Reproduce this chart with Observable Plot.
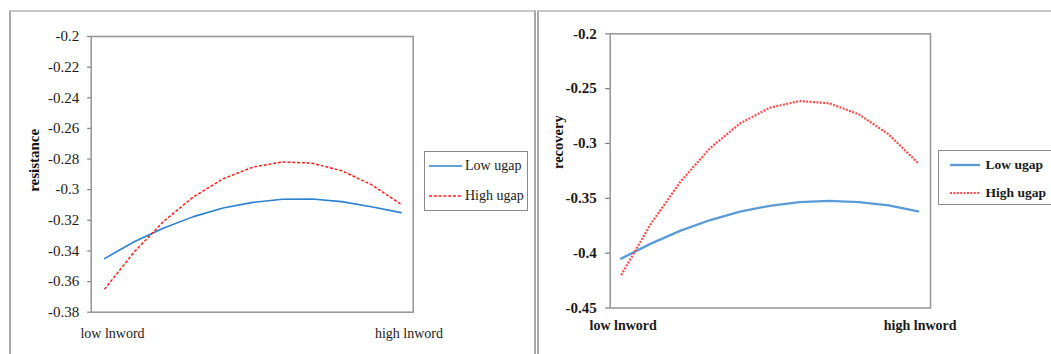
<!DOCTYPE html>
<html><head><meta charset="utf-8">
<script src="https://cdn.jsdelivr.net/npm/d3@7"></script>
<script src="https://cdn.jsdelivr.net/npm/@observablehq/plot@0.6"></script>
<style>
body{margin:0;background:#fff;}
#wrap{position:relative;width:1051px;height:354px;overflow:hidden;font-family:"Liberation Serif","Times New Roman",serif;color:#1a1a1a;}
.frame{position:absolute;box-sizing:border-box;}
.panel{position:absolute;top:0;}
.legend{position:absolute;box-sizing:border-box;border:1.5px solid #8a8a8a;background:#fff;}
.row{position:absolute;height:18px;display:flex;align-items:center;white-space:nowrap;}
.row svg{display:block;}
</style></head><body><div id="wrap"></div>
<script>
// ---- data ----
const xPositions = [0, 0.1, 0.2, 0.3, 0.4, 0.5, 0.6, 0.7, 0.8, 0.9, 1];
const xTicks = [0, 1];
const xTickLabels = ["low lnword", "high lnword"];
const seriesNames = ["Low ugap", "High ugap"];

const resistanceLow  = [-0.345, -0.334, -0.325, -0.3176, -0.312, -0.3083, -0.3063, -0.3061, -0.3078, -0.3112, -0.315];
const resistanceHigh = [-0.365, -0.3407, -0.3206, -0.3047, -0.2929, -0.2853, -0.2819, -0.2827, -0.2876, -0.2967, -0.3095];
const resistanceTicks = [-0.38, -0.36, -0.34, -0.32, -0.3, -0.28, -0.26, -0.24, -0.22, -0.2];

const recoveryLow  = [-0.405, -0.3913, -0.3795, -0.3698, -0.3622, -0.3568, -0.3535, -0.3524, -0.3534, -0.3565, -0.3618];
const recoveryHigh = [-0.42, -0.3732, -0.3346, -0.3041, -0.2817, -0.2674, -0.2613, -0.2633, -0.2734, -0.2916, -0.318];
const recoveryTicks = [-0.45, -0.4, -0.35, -0.3, -0.25, -0.2];

const fmt = d => String(Math.round(d * 100) / 100);
const rows = ys => xPositions.map((x, i) => ({x, y: ys[i]}));

function panel(o) {
  return Plot.plot({
    width: o.width, height: 354,
    marginLeft: o.ml, marginRight: o.mr, marginTop: o.mt, marginBottom: o.mb,
    x: {domain: o.xDomain},
    y: {domain: [o.yTicks[0], o.yTicks[o.yTicks.length - 1]]},
    style: {fontFamily: '"Liberation Serif","Times New Roman",serif', fontSize: "15px", background: "transparent", color: "#1a1a1a", overflow: "visible"},
    marks: [
      Plot.frame({stroke: "#9a9a9a", strokeWidth: 1.6}),
      Plot.axisY({ticks: o.yTicks, tickSize: o.tickSize, tickPadding: o.tickPad, tickFormat: fmt, label: null,
                  fontSize: 15, fontWeight: o.bold ? "bold" : "normal", stroke: "#7a7a7a", strokeWidth: 1.2}),
      Plot.axisX({ticks: xTicks, tickSize: 0, tickPadding: o.xPad, tickFormat: (d, i) => xTickLabels[i], label: null,
                  fontSize: 14, fontWeight: o.bold ? "bold" : "normal", dx: o.xdx}),
      Plot.text([o.label], {frameAnchor: "left", textAnchor: "middle", rotate: -90, dx: o.ldx, dy: o.ldy, fontWeight: "bold", fontSize: o.lfs, fill: "#111"}),
      Plot.line(rows(o.low), {x: "x", y: "y", stroke: o.lowColor, strokeWidth: o.lw}),
      Plot.line(rows(o.high), {x: "x", y: "y", stroke: o.highColor, strokeWidth: o.hw, strokeDasharray: o.dash, strokeLinecap: "butt"})
    ]
  });
}

const wrap = document.getElementById("wrap");

// outer frames
const f1 = document.createElement("div");
f1.className = "frame";
Object.assign(f1.style, {left: "9px", top: "10px", width: "527px", height: "400px",
  borderTop: "2px solid #c8c8c8", borderLeft: "2px solid #a8a8a8", borderRight: "2px solid #a8a8a8"});
wrap.appendChild(f1);
const f2 = document.createElement("div");
f2.className = "frame";
Object.assign(f2.style, {left: "537px", top: "10px", width: "600px", height: "400px",
  borderTop: "2px solid #c8c8c8", borderLeft: "2px solid #a8a8a8"});
wrap.appendChild(f2);

const left = panel({
  width: 536, ml: 90.7, mr: 123.3, mt: 36, mb: 42.3,
  xDomain: [-0.0449, 1.0412], yTicks: resistanceTicks, tickSize: 3.5, tickPad: 8.5,
  xPad: 16, xdx: 8, label: "resistance", ldx: -57.5, ldy: -14, lfs: 15,
  low: resistanceLow, high: resistanceHigh, lowColor: "#2b80cf", highColor: "#ff1a1a",
  lw: 1.6, hw: 1.5, dash: "3,1.8", bold: false
});
left.classList.add("panel");
left.style.left = "0px";
wrap.appendChild(left);

const right = panel({
  width: 514, ml: 72.7, mr: 121, mt: 33.3, mb: 46.5,
  xDomain: [-0.037, 1.0414], yTicks: recoveryTicks, tickSize: 4.5, tickPad: 9,
  xPad: 12, xdx: 2, label: "recovery", ldx: -51.4, ldy: -28.7, lfs: 14.5,
  low: recoveryLow, high: recoveryHigh, lowColor: "#5b9bd5", highColor: "#ff4a4a",
  lw: 2.3, hw: 2.2, dash: "2,1.4", bold: true
});
right.classList.add("panel");
right.style.left = "537px";
wrap.appendChild(right);

// legends
function legend(o) {
  const box = document.createElement("div");
  box.className = "legend";
  Object.assign(box.style, {left: o.x + "px", top: o.y + "px", width: o.w + "px", height: o.h + "px"});
  seriesNames.forEach((name, i) => {
    const r = document.createElement("div");
    r.className = "row";
    r.style.left = o.sx + "px";
    r.style.top = (o.rows[i] - 9) + "px";
    const len = o.len;
    r.innerHTML = `<svg width="${len}" height="6"><line x1="0" y1="3" x2="${len}" y2="3" stroke="${o.colors[i]}" stroke-width="${o.widths[i]}" ${o.dashes[i] ? `stroke-dasharray="${o.dashes[i]}"` : ""}/></svg>` +
      `<span style="margin-left:${o.gap}px;font-size:${o.fs}px;font-weight:${o.bold ? "bold" : "normal"}">${name}</span>`;
    box.appendChild(r);
  });
  wrap.appendChild(box);
}
legend({x: 424, y: 151, w: 104, h: 60, sx: 4, len: 33, gap: 3, rows: [14, 44], fs: 14, bold: false,
  colors: ["#2b80cf", "#ff1a1a"], widths: [1.6, 1.5], dashes: [null, "3,1.8"]});
legend({x: 938, y: 150, w: 130, h: 55, sx: 10.5, len: 30, gap: 6, rows: [13.5, 41.5], fs: 13.5, bold: true,
  colors: ["#5b9bd5", "#ff4a4a"], widths: [2.3, 2.2], dashes: [null, "2,1.4"]});
</script></body></html>
